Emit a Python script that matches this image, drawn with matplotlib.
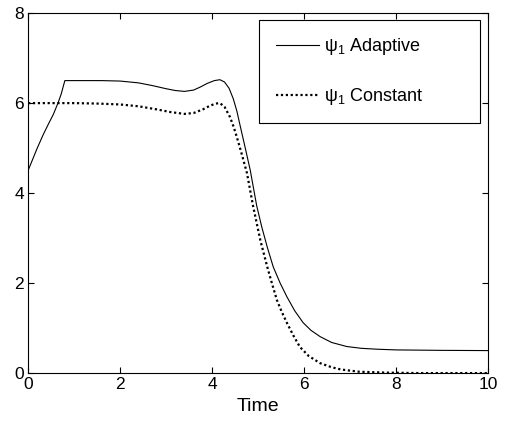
import matplotlib
matplotlib.use('Agg')
import matplotlib.pyplot as plt

plt.rcParams['font.family'] = ['Liberation Sans', 'DejaVu Sans']
plt.rcParams['mathtext.fontset'] = 'custom'
plt.rcParams['mathtext.rm'] = 'Liberation Sans'
plt.rcParams['mathtext.it'] = 'Liberation Sans'

# psi_1 with adaptive gain
tAdaptive = [0, 0.1, 0.2, 0.33, 0.45, 0.55, 0.65, 0.72, 0.8, 1.2, 1.6, 2.0, 2.4, 2.7, 3.0,
             3.2, 3.4, 3.6, 3.75, 3.9, 4.05, 4.17, 4.27, 4.37, 4.46, 4.54, 4.61, 4.7, 4.83,
             4.97, 5.08, 5.2, 5.33, 5.48, 5.63, 5.8, 5.98, 6.15, 6.35, 6.6, 6.93, 7.25, 7.6,
             8.0, 8.5, 9.0, 10.0]
psiAdaptive = [4.5, 4.75, 5.0, 5.3, 5.55, 5.75, 6.0, 6.2, 6.5, 6.5, 6.5, 6.49, 6.45, 6.39, 6.32,
               6.28, 6.26, 6.29, 6.36, 6.44, 6.5, 6.52, 6.47, 6.33, 6.1, 5.82, 5.5, 5.1, 4.51,
               3.72, 3.25, 2.8, 2.36, 2.0, 1.69, 1.38, 1.12, 0.95, 0.81, 0.68, 0.59, 0.55, 0.53,
               0.515, 0.51, 0.505, 0.5]

# psi_1 with constant gain
tConstant = [0, 0.5, 1.0, 1.5, 2.0, 2.4, 2.8, 3.1, 3.4, 3.6, 3.8, 3.95, 4.08, 4.17, 4.27,
             4.39, 4.47, 4.54, 4.65, 4.76, 4.89, 5.05, 5.2, 5.3, 5.41, 5.52, 5.63, 5.77, 5.91,
             6.1, 6.35, 6.6, 6.8, 7.2, 7.8, 8.5, 10.0]
psiConstant = [6.0, 6.0, 6.0, 5.99, 5.97, 5.93, 5.86, 5.8, 5.76, 5.78, 5.86, 5.94, 5.99, 6.0, 5.92,
               5.69, 5.47, 5.24, 4.85, 4.44, 3.72, 2.95, 2.36, 2.0, 1.62, 1.35, 1.11, 0.83, 0.58,
               0.38, 0.22, 0.13, 0.08, 0.03, 0.01, 0.0, 0.0]

xTicks = [0, 2, 4, 6, 8, 10]
yTicks = [0, 2, 4, 6, 8]
pad = ' ' * 9

fig = plt.figure(figsize=(5.10, 4.23), dpi=100)
ax = fig.add_axes([0.055, 0.118, 0.902, 0.851])

ax.plot(tAdaptive, psiAdaptive, color='black', linewidth=0.8,
        label=r'$\mathregular{\psi_1}$ Adaptive' + pad)
ax.plot(tConstant, psiConstant, color='black', linewidth=1.6, linestyle=(0, (1, 1.2)),
        label=r'$\mathregular{\psi_1}$ Constant' + pad)

ax.set_xlim(0, 10)
ax.set_ylim(0, 8)
ax.set_xticks(xTicks)
ax.set_yticks(yTicks)
ax.tick_params(direction='in', top=True, right=True, labelsize=12.5, length=4, pad=3)
ax.set_xlabel('Time', fontsize=14, labelpad=4)
for spine in ax.spines.values():
    spine.set_linewidth(0.8)

leg = ax.legend(loc='upper right', bbox_to_anchor=(0.983, 0.981), borderaxespad=0,
                fontsize=13, fancybox=False, framealpha=1, edgecolor='black',
                handlelength=2.4, handletextpad=0.3, labelspacing=1.6,
                borderpad=0.9)
leg.get_frame().set_linewidth(0.8)

fig.savefig('out.png', dpi=100)
